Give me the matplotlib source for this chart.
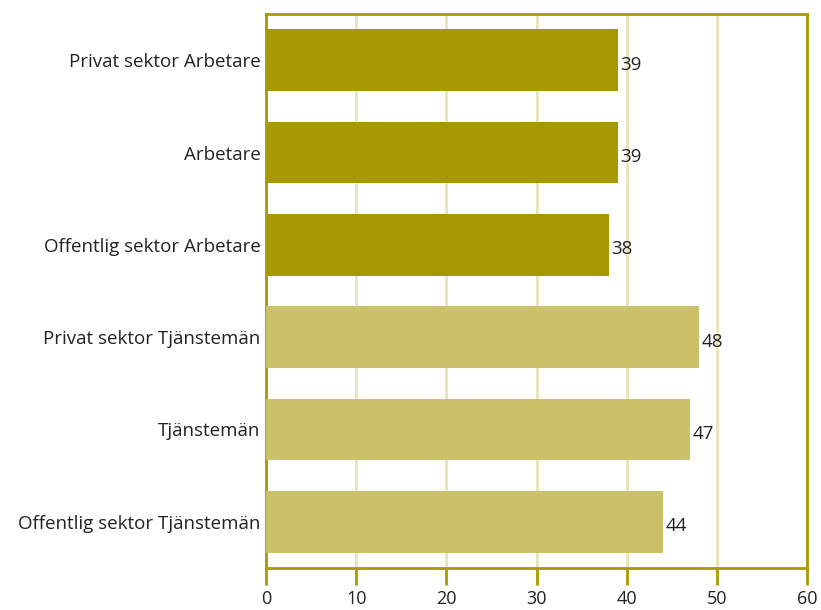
import matplotlib.pyplot as plt

# Data
categories = ["Privat sektor Arbetare", "Arbetare", "Offentlig sektor Arbetare",
              "Privat sektor Tjänstemän", "Tjänstemän", "Offentlig sektor Tjänstemän"]
values = [39, 39, 38, 48, 47, 44]
colors = ["#a69900", "#a69900", "#a69900", "#cbc16a", "#cbc16a", "#cbc16a"]
xticks = [0, 10, 20, 30, 40, 50, 60]

plt.rcParams['font.family'] = ['Open Sans', 'DejaVu Sans']

fig = plt.figure(figsize=(8.21, 6.10), dpi=100)
ax = fig.add_axes([0.324, 0.069, 0.659, 0.908])

ypos = list(range(len(categories)))
ax.barh(ypos, values, height=0.67, color=colors, zorder=3)

for y, v in zip(ypos, values):
    ax.text(v + 0.3, y + 0.05, str(v), va="center", ha="left", fontsize=13.5,
            color="#222222", zorder=4)

ax.set_xlim(0, 60)
ax.set_ylim(5.5, -0.5)
ax.set_yticks(ypos)
ax.set_yticklabels(categories, fontsize=13.5, color="#222222")
ax.set_xticks(xticks)
ax.set_xticklabels([str(t) for t in xticks], fontsize=13, color="#222222")

ax.xaxis.grid(True, color="#e8e3b8", linewidth=2, zorder=0)
ax.set_axisbelow(True)

frame = "#a89a00"
for s in ax.spines.values():
    s.set_color(frame)
    s.set_linewidth(2)
ax.tick_params(axis="y", length=0, pad=4)
ax.tick_params(axis="x", length=12, width=2, color=frame, pad=4, direction="out")

fig.savefig("out.png", dpi=100)
